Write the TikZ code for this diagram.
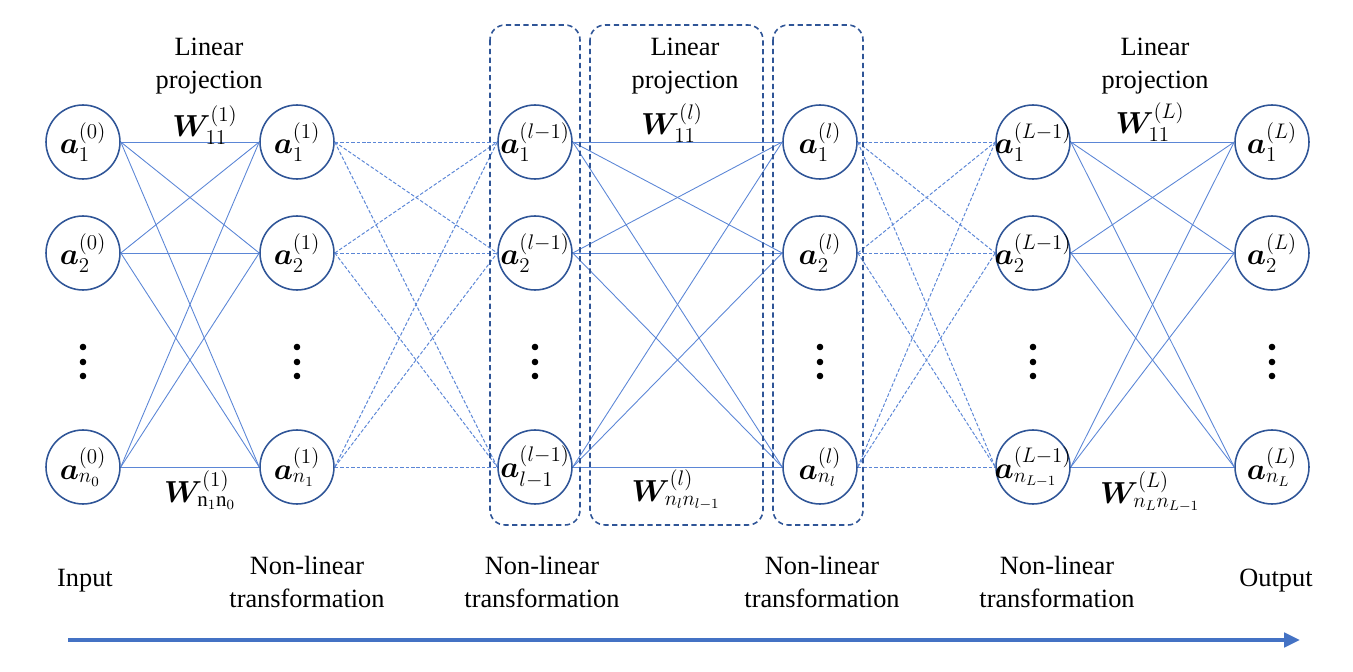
\documentclass[tikz,border=0pt]{standalone}
\usepackage{amsmath,bm}
\usepackage{fontspec}
\setmainfont{Liberation Serif}
\usetikzlibrary{arrows.meta}
\DeclareMathSizes{19}{19}{11.5}{8}
\definecolor{ringblue}{HTML}{2F5597}
\definecolor{linkblue}{HTML}{5B86D6}
\definecolor{arrowblue}{HTML}{4472C4}
\newcommand{\act}[1]{\makebox[0pt]{$#1$}}
\tikzset{
  neuron/.style={circle, draw=ringblue, line width=0.9pt, minimum size=1.48cm, inner sep=0pt, font=\fontsize{19}{23}\selectfont},
  link/.style={draw=linkblue, line width=0.5pt},
  dashlink/.style={draw=linkblue, line width=0.55pt, dash pattern=on 2pt off 1.1pt},
  groupbox/.style={draw=ringblue, line width=0.9pt, dash pattern=on 3pt off 2pt, rounded corners=0.3cm},
  caption/.style={font=\fontsize{15}{18.4}\selectfont, align=center},
  weight/.style={font=\fontsize{17}{20}\selectfont}
}

\begin{document}
\begin{tikzpicture}[x=0.02cm,y=-0.02cm]
	%%%%% START %%%%%
	\useasboundingbox (0,0) rectangle (1353,672);
	
	% layers of neurons
	\foreach \col/\xx/\lay/\idx in {in/83/0/n_0, h1/297/1/n_1, hp/535/l-1/l-1, hl/820/l/n_l, hq/1033/L-1/n_{L-1}, out/1272/L/n_L} {
		\node[neuron] (\col-1) at (\xx,142) {\act{\bm{a}_1^{(\lay)}}};
		\node[neuron] (\col-2) at (\xx,253) {\act{\bm{a}_2^{(\lay)}}};
		\node[neuron] (\col-n) at (\xx,467) {\act{\bm{a}_{\idx}^{(\lay)}}};
		\foreach \dy in {347,362,376}
			\fill (\xx,\dy) circle (3.3);
	}
	
	% connections
	\foreach \a/\b/\s in {in/h1/link, h1/hp/dashlink, hp/hl/link, hl/hq/dashlink, hq/out/link}
		\foreach \i in {1,2,n}
			\foreach \j in {1,2,n}
				\draw[\s] (\a-\i.east) -- (\b-\j.west);
	
	% dashed groups
	\draw[groupbox] (490,25) rectangle (580,525);
	\draw[groupbox] (590,25) rectangle (763,525);
	\draw[groupbox] (773,25) rectangle (863,525);
	
	% projections
	\node[caption] (proj1) at (209,66) {Linear\\projection};
	\node[weight] (w1top) at (205,125) {$\bm{W}_{11}^{(1)}$};
	\node[weight] (w1bot) at (200,490) {$\bm{W}_{\mathrm{n}_1\mathrm{n}_0}^{(1)}$};
	
	\node[caption] (projl) at (685,66) {Linear\\projection};
	\node[weight] (wltop) at (672,123) {$\bm{W}_{11}^{(l)}$};
	\node[weight] (wlbot) at (676,490) {$\bm{W}_{n_l n_{l-1}}^{(l)}$};
	
	\node[caption] (projL) at (1155,66) {Linear\\projection};
	\node[weight] (wLtop) at (1150,122) {$\bm{W}_{11}^{(L)}$};
	\node[weight] (wLbot) at (1150,492) {$\bm{W}_{n_L n_{L-1}}^{(L)}$};
	
	% stages
	\node[caption] (input) at (85,581) {Input};
	\node[caption] (nl1) at (307,582) {Non-linear\\transformation};
	\node[caption] (nl2) at (542,582) {Non-linear\\transformation};
	\node[caption] (nl3) at (822,582) {Non-linear\\transformation};
	\node[caption] (nl4) at (1057,582) {Non-linear\\transformation};
	\node[caption] (output) at (1276,581) {Output};
	
	% flow arrow
	\coordinate (flow-start) at (68,640);
	\coordinate (flow-end) at (1300,640);
	\draw[arrowblue, line width=2.2pt, -{Triangle[length=9pt,width=8pt]}] (flow-start) -- (flow-end);
	%%%%% END %%%%%
\end{tikzpicture}
\end{document}
